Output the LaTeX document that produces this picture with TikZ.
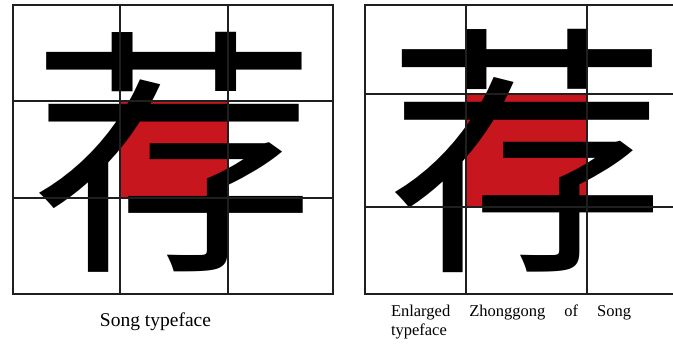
\documentclass[tikz,border=0pt]{standalone}
\usepackage{fontspec}
\setmainfont{Liberation Serif}
\newfontfamily\songfont{Noto Sans CJK SC}
\newfontfamily\heifont{Noto Sans CJK SC}
\definecolor{cellred}{RGB}{200,22,30}
\tikzset{
  gridline/.style={line width=1.6pt, draw=black!88},
  redcell/.style={fill=cellred},
  glyph/.style={inner sep=0pt, outer sep=0pt},
  caption/.style={inner sep=0pt, outer sep=0pt}
}
\begin{document}
\begin{tikzpicture}[x=1pt,y=-1pt]
\useasboundingbox (0,0) rectangle (673,344);
\fill[white] (0,0) rectangle (673,344);
% left panel
\fill[redcell] (120,101) rectangle (228,198);
\node[glyph] (songchar) at (174.5,152.5) {\resizebox{286pt}{219pt}{\songfont 荐}};
\draw[gridline] (13,5) rectangle (333,294);
\draw[gridline] (120,5) -- (120,294) (228,5) -- (228,294);
\draw[gridline] (13,101) -- (333,101) (13,198) -- (333,198);
\node[caption, font=\fontsize{19.5}{22}\selectfont, anchor=base] (songcap) at (155.5,327) {Song typeface};
% right panel
\fill[redcell] (466,94) rectangle (587,207);
\node[glyph] (zgchar) at (527,151) {\resizebox{280pt}{222pt}{\heifont 荐}};
\draw[gridline] (365,5) rectangle (680,294);
\draw[gridline] (466,5) -- (466,294) (587,5) -- (587,294);
\draw[gridline] (365,94) -- (680,94) (365,207) -- (680,207);
\node[caption, font=\fontsize{16.5}{18.5}\selectfont, anchor=base west, align=left] (zgcap) at (391,335.2) {\makebox[240pt][s]{Enlarged Zhonggong of Song}\\typeface};
\end{tikzpicture}
\end{document}
